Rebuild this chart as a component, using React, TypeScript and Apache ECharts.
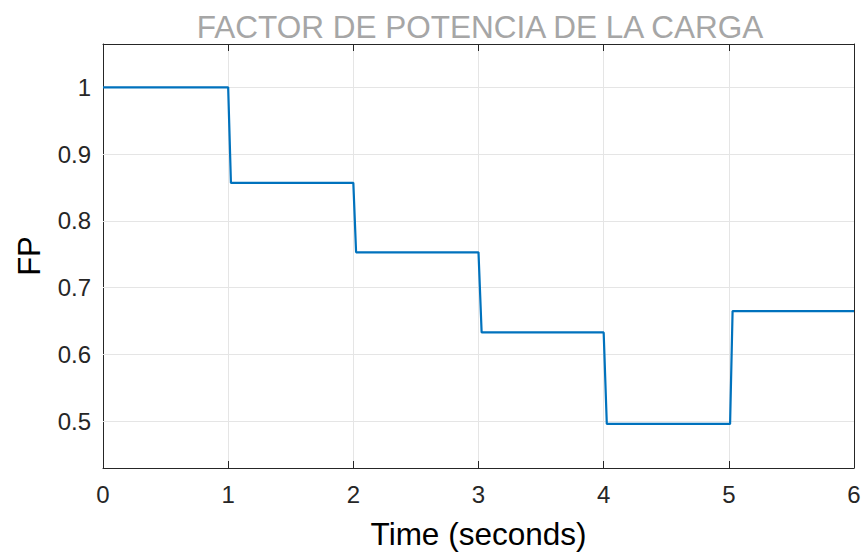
import React, { useEffect, useRef } from "react";
import * as echarts from "echarts";

const timeS = [0, 1, 1.022, 2, 2.022, 3, 3.025, 4, 4.025, 5.01, 5.03, 6];
const fpValues = [1, 1, 0.857, 0.857, 0.753, 0.753, 0.633, 0.633, 0.496, 0.496, 0.665, 0.665];
const yTicks = [0.5, 0.6, 0.7, 0.8, 0.9, 1];
const xTicks = [0, 1, 2, 3, 4, 5, 6];

const FONT = "Liberation Sans, Arial, Helvetica, sans-serif";
const AX = "#262626";

export default function App() {
  const ref = useRef<HTMLDivElement>(null);
  useEffect(() => {
    if (!ref.current) return;
    const chart = echarts.init(ref.current, undefined, { renderer: "svg" });
    const data = timeS.map((t, i) => [t, fpValues[i]]);
    const yMin = 0.43;
    const yMax = 1.065;
    chart.setOption({
      animation: false,
      backgroundColor: "#ffffff",
      title: {
        text: "FACTOR DE POTENCIA DE LA CARGA",
        left: 475,
        top: 6,
        textAlign: "center",
        textStyle: { color: "#a6a6a6", fontSize: 31.5, fontWeight: "normal", fontFamily: FONT },
      },
      grid: { left: 103, right: 10, top: 44, bottom: 85, containLabel: false },
      xAxis: [
        {
          type: "value",
          min: 0,
          max: 6,
          interval: 1,
          position: "bottom",
          name: "Time (seconds)",
          nameLocation: "middle",
          nameGap: 50,
          nameTextStyle: { color: "#000", fontSize: 31.5, fontFamily: FONT },
          axisLine: { show: true, onZero: false, lineStyle: { color: AX, width: 1 } },
          axisTick: { show: true, inside: true, length: 7, lineStyle: { color: AX } },
          axisLabel: { show: true, margin: 14, color: AX, fontSize: 24, fontFamily: FONT },
          splitLine: { show: true, lineStyle: { color: "#e5e5e5", width: 1 } },
        },
        {
          type: "value",
          min: 0,
          max: 6,
          interval: 1,
          position: "top",
          axisLine: { show: true, onZero: false, lineStyle: { color: AX, width: 1 } },
          axisTick: { show: true, inside: true, length: 7, lineStyle: { color: AX } },
          axisLabel: { show: false },
          splitLine: { show: false },
        },
      ],
      yAxis: [
        {
          type: "value",
          min: yMin,
          max: yMax,
          position: "left",
          name: "FP",
          nameLocation: "middle",
          nameGap: 58,
          nameTextStyle: { color: "#000", fontSize: 31, fontFamily: FONT },
          axisLine: { show: true, onZero: false, lineStyle: { color: AX, width: 1 } },
          axisTick: { show: true, inside: true, length: 7, customValues: yTicks, lineStyle: { color: AX } },
          axisLabel: { show: true, margin: 12, color: AX, fontSize: 24, fontFamily: FONT, customValues: yTicks },
          splitLine: { show: false },
        },
        {
          type: "value",
          min: yMin,
          max: yMax,
          position: "right",
          axisLine: { show: true, onZero: false, lineStyle: { color: AX, width: 1 } },
          axisTick: { show: true, inside: true, length: 7, customValues: yTicks, lineStyle: { color: AX } },
          axisLabel: { show: false },
          splitLine: { show: false },
        },
      ],
      series: [
        {
          type: "line",
          name: "grid",
          data: [],
          z: 1,
          silent: true,
          markLine: {
            z: 1,
            silent: true,
            symbol: ["none", "none"],
            label: { show: false },
            lineStyle: { color: "#e5e5e5", width: 1, type: "solid" },
            data: yTicks.map((v) => ({ yAxis: v })),
          },
        },
        {
          type: "line",
          name: "FP",
          data,
          z: 10,
          showSymbol: false,
          symbol: "none",
          lineStyle: { color: "#0072BD", width: 2.2 },
        },
      ],
    });
    return () => chart.dispose();
  }, []);
  return (
    <div
      ref={ref}
      style={{ position: "absolute", left: 0, top: 0, width: 864, height: 555 }}
    />
  );
}
